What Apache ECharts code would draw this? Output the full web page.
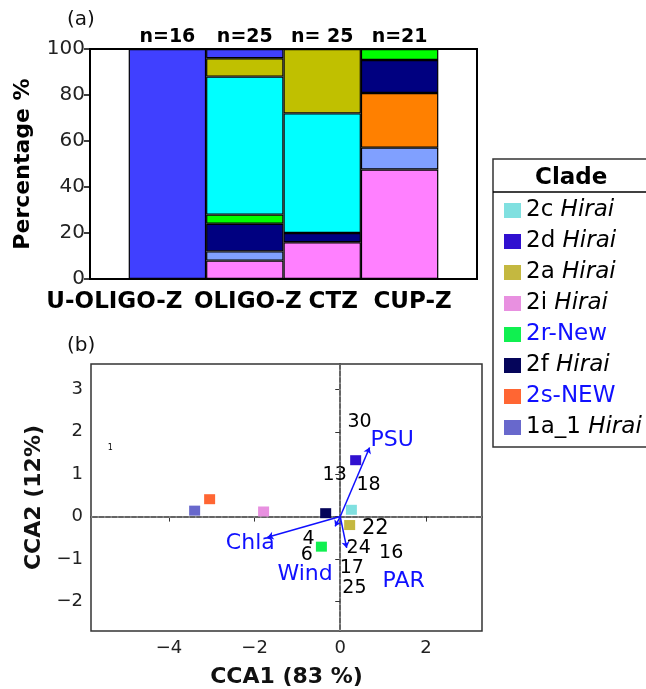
<!DOCTYPE html>
<html>
<head>
<meta charset="utf-8">
<script src="https://cdn.jsdelivr.net/npm/echarts@6/dist/echarts.min.js"></script>
<style>
  html, body { margin: 0; padding: 0; background: #fff; }
  #main { width: 646px; height: 689px; }
</style>
</head>
<body>
<div id="main"></div>
<script>
// (a) 各区域及样本数
const zones = ['U-OLIGO-Z', 'OLIGO-Z', 'CTZ', 'CUP-Z'];
const counts = ['n=16', 'n=25', 'n= 25', 'n=21'];
// (a) 各分支百分比，自下而上堆叠
const pct2i = [0, 8, 16, 47.6];
const pct1a = [0, 4, 0, 9.5];
const pct2s = [0, 0, 0, 23.8];
const pct2f = [0, 12, 4, 14.3];
const pct2r = [0, 4, 0, 4.8];
const pct2c = [0, 60, 52, 0];
const pct2a = [0, 8, 28, 0];
const pct2d = [100, 4, 0, 0];

// (b) 分支得分
const clades = ['2c Hirai', '2d Hirai', '2a Hirai', '2i Hirai', '2r-New', '2f Hirai', '2s-NEW', '1a_1 Hirai'];
const cladeX = [0.26, 0.36, 0.22, -1.79, -0.44, -0.34, -3.05, -3.40];
const cladeY = [0.16, 1.33, -0.20, 0.12, -0.71, 0.08, 0.41, 0.14];
// (b) 站点编号
const sites = ['30', '13', '18', '22', '4', '6', '24', '16', '17', '25', '1'];
const siteX = [0.45, -0.13, 0.66, 0.82, -0.74, -0.78, 0.43, 1.19, 0.27, 0.33, -5.37];
const siteY = [2.24, 0.98, 0.75, -0.29, -0.53, -0.92, -0.74, -0.86, -1.21, -1.68, 1.61];
// (b) 环境变量箭头
const envNames = ['PSU', 'Chla', 'PAR', 'Wind'];
const envX = [0.685, -1.70, 0.15, -0.12];
const envY = [1.63, -0.49, -0.74, -0.23];
const envLabelX = [1.21, -2.10, 1.48, -0.82];
const envLabelY = [1.80, -0.63, -1.53, -1.37];
const ccaXTicks = [-4, -2, 0, 2];
const ccaYTicks = [-2, -1, 0, 1, 2, 3];

// 颜色
const barColors = {
    '2i': '#FF80FF', '1a': '#80A0FF', '2s': '#FF8000', '2f': '#000080',
    '2r': '#00FF00', '2c': '#00FFFF', '2a': '#C0C000', '2d': '#4040FF'
};
const cladeColors = ['#80E0E0', '#3010D0', '#C4B840', '#E890E0', '#10F050', '#05055A', '#FF6633', '#6868CC'];

const FONT = 'DejaVu Sans';
const BLUE = '#1010FF';
const siteFont = { '22': 21, '1': 8 };

let chart = echarts.init(document.getElementById('main'));

// 堆叠柱
const barSets = [
    ['2i', pct2i], ['1a', pct1a], ['2s', pct2s], ['2f', pct2f],
    ['2r', pct2r], ['2c', pct2c], ['2a', pct2a], ['2d', pct2d]
];
let barSeries = barSets.map(function (s) {
    return {
        name: 'bar-' + s[0],
        type: 'bar',
        xAxisIndex: 0,
        yAxisIndex: 0,
        stack: 'zone',
        barWidth: '100%',
        data: ['-'].concat(s[1].map(v => v === 0 ? '-' : v), ['-']),
        itemStyle: { color: barColors[s[0]], borderColor: '#000', borderWidth: 1.2 },
        emphasis: { disabled: true }
    };
});

// 分支散点
let cladeSeries = clades.map(function (c, i) {
    return {
        name: c,
        type: 'scatter',
        xAxisIndex: 2,
        yAxisIndex: 1,
        symbol: 'rect',
        symbolSize: [11, 10],
        itemStyle: { color: cladeColors[i], opacity: 1 },
        data: [[cladeX[i], cladeY[i]]],
        z: 5
    };
});

let option = {
    animation: false,
    title: [
        { text: '(a)', left: 67, top: 10, padding: 0, textStyle: { fontFamily: FONT, fontSize: 20, fontWeight: 'normal', color: '#111' } },
        { text: '(b)', left: 67, top: 336, padding: 0, textStyle: { fontFamily: FONT, fontSize: 20, fontWeight: 'normal', color: '#111' } },
        { text: 'Clade', left: 535, top: 167, padding: 0, textStyle: { fontFamily: FONT, fontSize: 23, fontWeight: 'bold', color: '#000' } }
    ],
    graphic: [
        { type: 'rect', shape: { x: 493, y: 159, width: 160, height: 288 }, style: { fill: 'none', stroke: '#333', lineWidth: 1.5 } },
        { type: 'line', shape: { x1: 493, y1: 192, x2: 646, y2: 192 }, style: { stroke: '#000', lineWidth: 1.5 } }
    ],
    legend: {
        data: clades,
        orient: 'vertical',
        left: 504,
        top: 199,
        padding: 0,
        icon: 'rect',
        itemWidth: 17,
        itemHeight: 15,
        itemGap: 8,
        formatter: function (name) {
            if (name.endsWith(' Hirai')) {
                return '{n|' + name.replace(' Hirai', ' ') + '}{i|Hirai}';
            }
            return '{b|' + name + '}';
        },
        textStyle: {
            fontFamily: FONT,
            fontSize: 23,
            rich: {
                n: { fontFamily: FONT, fontSize: 23, color: '#000', lineHeight: 22 },
                i: { fontFamily: FONT, fontSize: 23, color: '#000', fontStyle: 'italic', lineHeight: 22 },
                b: { fontFamily: FONT, fontSize: 23, color: BLUE, lineHeight: 22 }
            }
        }
    },
    grid: [
        { left: 90, top: 49, width: 387, height: 230, show: true, borderColor: '#000', borderWidth: 2 },
        { left: 91, top: 364, width: 391, height: 267, show: true, borderColor: '#333', borderWidth: 1.5 }
    ],
    xAxis: [
        {
            gridIndex: 0,
            type: 'category',
            boundaryGap: false,
            data: [''].concat(zones, ['']),
            axisLine: { show: true, lineStyle: { color: '#000', width: 2 } },
            axisTick: { show: false },
            splitLine: { show: false },
            axisLabel: {
                interval: 0,
                margin: 12,
                color: '#000',
                fontFamily: FONT,
                fontSize: 23,
                fontWeight: 'bold',
                formatter: function (v) {
                    const keys = { 'U-OLIGO-Z': 'u', 'OLIGO-Z': 'o', 'CTZ': 'c', 'CUP-Z': 'p' };
                    return v ? '{' + keys[v] + '|' + v + '}' : '';
                },
                rich: {
                    u: { fontFamily: FONT, fontSize: 23, fontWeight: 'bold', color: '#000', padding: [0, 106, 0, 0] },
                    o: { fontFamily: FONT, fontSize: 23, fontWeight: 'bold', color: '#000', padding: [0, 0, 0, 6] },
                    c: { fontFamily: FONT, fontSize: 23, fontWeight: 'bold', color: '#000', padding: [0, 0, 0, 22] },
                    p: { fontFamily: FONT, fontSize: 23, fontWeight: 'bold', color: '#000', padding: [0, 0, 0, 26] }
                }
            }
        },
        {
            gridIndex: 0,
            type: 'category',
            position: 'top',
            boundaryGap: false,
            data: [''].concat(counts, ['']),
            axisLine: { show: false },
            axisTick: { show: false },
            splitLine: { show: false },
            axisLabel: { interval: 0, margin: 2, color: '#000', fontFamily: FONT, fontSize: 19, fontWeight: 'bold' }
        },
        {
            gridIndex: 1,
            type: 'value',
            min: -5.82,
            max: 3.31,
            name: 'CCA1 (83 %)',
            nameLocation: 'middle',
            nameGap: 35,
            nameTextStyle: { fontFamily: FONT, fontSize: 22, fontWeight: 'bold', color: '#111' },
            axisLine: { show: true, lineStyle: { color: '#333', width: 1.5 } },
            axisTick: { show: true, length: 5, customValues: ccaXTicks, lineStyle: { color: '#333' } },
            splitLine: { show: false },
            axisLabel: {
                customValues: ccaXTicks,
                margin: 8,
                color: '#222',
                fontFamily: FONT,
                fontSize: 18,
                formatter: v => String(v).replace('-', '\u2212')
            }
        }
    ],
    yAxis: [
        {
            gridIndex: 0,
            type: 'value',
            min: 0,
            max: 100,
            interval: 20,
            name: 'Percentage %',
            nameLocation: 'middle',
            nameGap: 56,
            nameTextStyle: { fontFamily: FONT, fontSize: 22, fontWeight: 'bold', color: '#000' },
            axisLine: { show: true, lineStyle: { color: '#000', width: 2 } },
            axisTick: { show: true, length: 6, lineStyle: { color: '#000', width: 1.5 } },
            splitLine: { show: false },
            axisLabel: { margin: 5, color: '#222', fontFamily: FONT, fontSize: 20 }
        },
        {
            gridIndex: 1,
            type: 'value',
            min: -2.7,
            max: 3.6,
            name: 'CCA2 (12%)',
            nameLocation: 'middle',
            nameGap: 46,
            nameTextStyle: { fontFamily: FONT, fontSize: 22, fontWeight: 'bold', color: '#111' },
            axisLine: { show: true, lineStyle: { color: '#333', width: 1.5 } },
            axisTick: { show: true, length: 5, customValues: ccaYTicks, lineStyle: { color: '#333' } },
            splitLine: { show: false },
            axisLabel: {
                customValues: ccaYTicks,
                margin: 8,
                color: '#222',
                fontFamily: FONT,
                fontSize: 18,
                formatter: v => String(v).replace('-', '\u2212')
            }
        }
    ],
    series: barSeries.concat(cladeSeries, [
        {
            // 站点编号 + 零线
            name: 'sites',
            type: 'scatter',
            xAxisIndex: 2,
            yAxisIndex: 1,
            symbolSize: 0,
            itemStyle: { opacity: 1 },
            data: sites.map((s, i) => ({
                name: s,
                value: [siteX[i], siteY[i]],
                label: { fontSize: siteFont[s] || 19 }
            })),
            label: {
                show: true,
                position: 'inside',
                formatter: p => p.name,
                color: '#000',
                fontFamily: FONT,
                fontSize: 19
            },
            markLine: {
                silent: true,
                symbol: 'none',
                label: { show: false },
                lineStyle: { color: '#999', width: 1.5, type: [1.5, 5] },
                data: [{ xAxis: 0 }, { yAxis: 0 }]
            },
            z: 3
        },
        {
            // 环境变量箭头
            name: 'env',
            type: 'scatter',
            xAxisIndex: 2,
            yAxisIndex: 1,
            symbolSize: 0,
            itemStyle: { opacity: 1 },
            data: envNames.map((s, i) => ({ name: s, value: [envLabelX[i], envLabelY[i]] })),
            label: {
                show: true,
                position: 'inside',
                formatter: p => p.name,
                color: BLUE,
                fontFamily: FONT,
                fontSize: 22
            },
            markLine: {
                silent: true,
                symbol: ['none', 'arrow'],
                symbolSize: 6,
                label: { show: false },
                lineStyle: { color: BLUE, width: 1.5, type: 'solid' },
                data: envNames.map((s, i) => [{ coord: [0, 0] }, { coord: [envX[i], envY[i]] }])
            },
            z: 4
        }
    ])
};

chart.setOption(option);
</script>
</body>
</html>
